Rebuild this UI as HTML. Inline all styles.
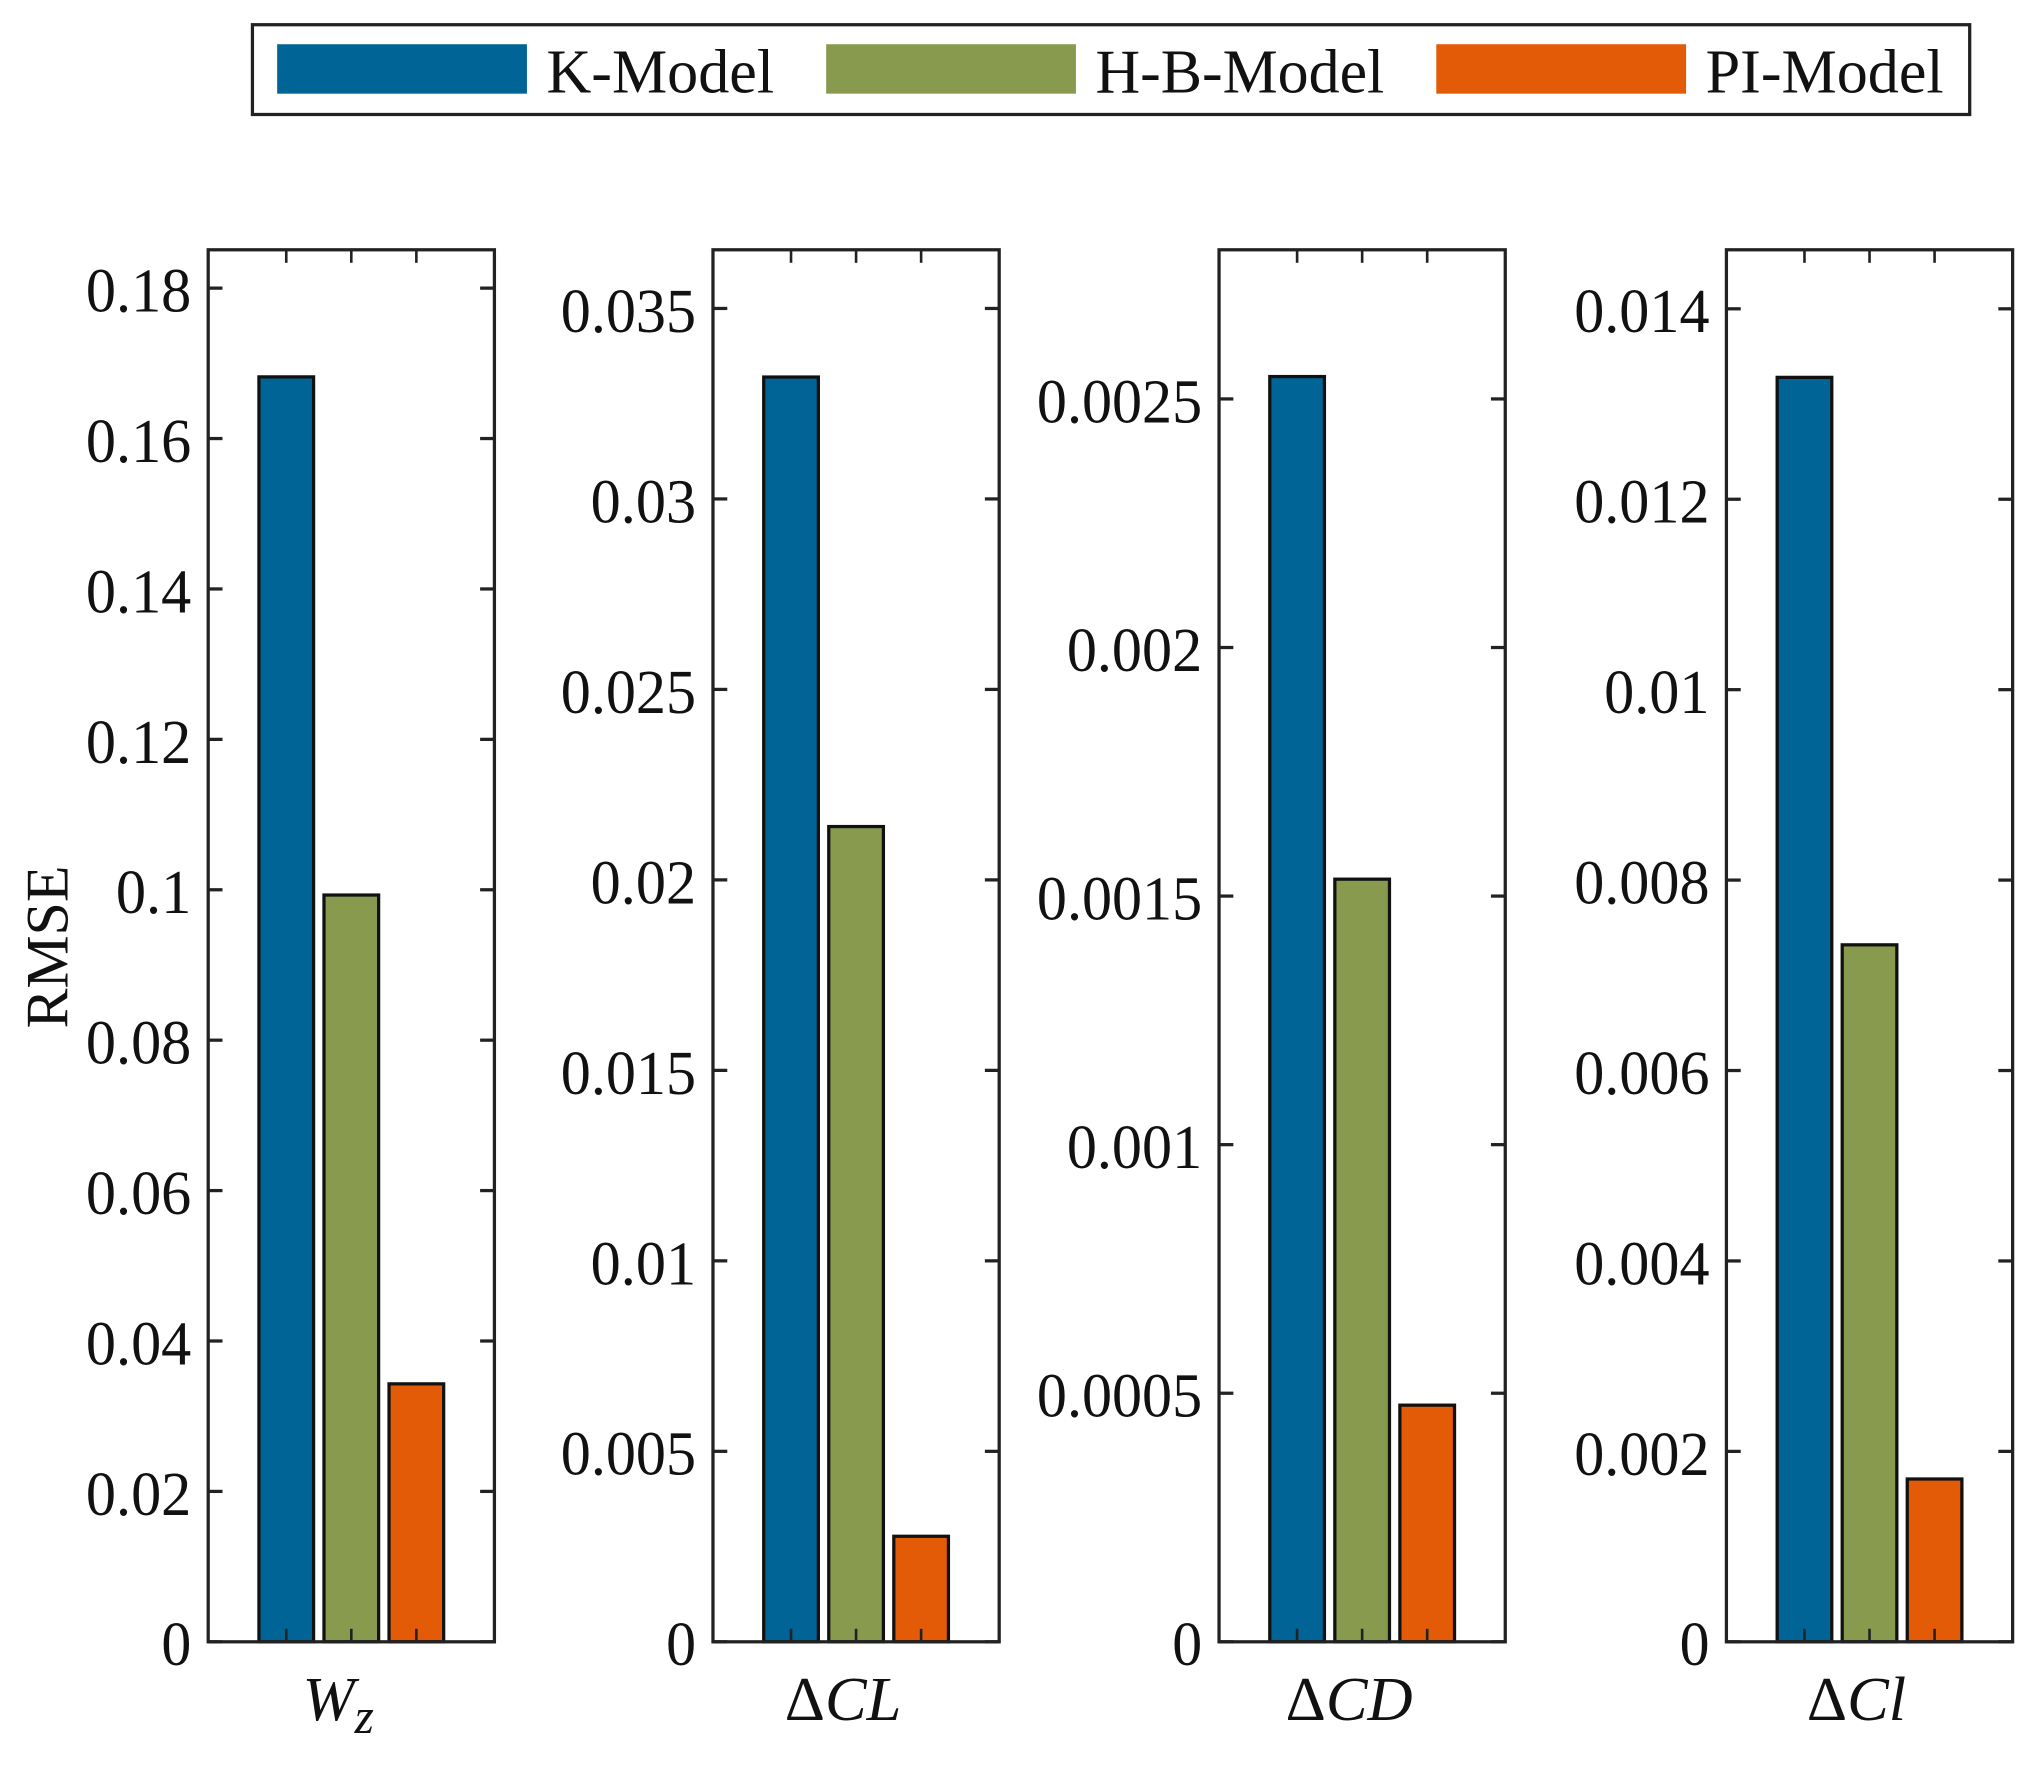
<!DOCTYPE html>
<html><head><meta charset="utf-8"><style>
html,body{margin:0;padding:0;background:#fff}
svg{display:block}
text{font-family:"Liberation Serif",serif;fill:#111}
</style></head><body>
<svg id="fig" xmlns="http://www.w3.org/2000/svg" width="2040" height="1768" viewBox="0 0 1568 1359">
<g>
<rect x="194" y="19" width="1320" height="69" fill="#fff" stroke="#222" stroke-width="2.5"/>
<g><rect x="213" y="34" width="192" height="38" fill="#006496"/><text x="420" y="71" font-size="48" textLength="175" lengthAdjust="spacingAndGlyphs">K-Model</text></g>
<g><rect x="635" y="34" width="192" height="38" fill="#889a4e"/><text x="842" y="71" font-size="48" textLength="222" lengthAdjust="spacingAndGlyphs">H-B-Model</text></g>
<g><rect x="1104" y="34" width="192" height="38" fill="#e35b07"/><text x="1311" y="71" font-size="48" textLength="183" lengthAdjust="spacingAndGlyphs">PI-Model</text></g>
</g>
<text transform="translate(52,728) rotate(-90)" text-anchor="middle" font-size="46">RMSE</text>
<g id="panels"></g>
</svg>
<script>
const categories = ["Wz", "ΔCL", "ΔCD", "ΔCl"];
const kModel = [0.1682, 0.0332, 0.002545, 0.01328];
const hbModel = [0.0993, 0.0214, 0.001534, 0.00732];
const piModel = [0.0343, 0.00277, 0.000476, 0.00171];
const yMax = [0.1851, 0.03654, 0.0028, 0.01462];
const tickLabels = [
  ["0","0.02","0.04","0.06","0.08","0.1","0.12","0.14","0.16","0.18"],
  ["0","0.005","0.01","0.015","0.02","0.025","0.03","0.035"],
  ["0","0.0005","0.001","0.0015","0.002","0.0025"],
  ["0","0.002","0.004","0.006","0.008","0.01","0.012","0.014"]
];
const seriesNames = ["k-model","h-b-model","pi-model"];
const colors = ["#006496","#889a4e","#e35b07"];
const NS = "http://www.w3.org/2000/svg";
const root = document.getElementById("panels");
const axLeft = [160, 548, 937, 1327];
const axW = 220, axTop = 192, axBot = 1262;
function mk(tag, attrs, parent){const e=document.createElementNS(NS,tag);for(const k in attrs)e.setAttribute(k,attrs[k]);parent.appendChild(e);return e;}
const series=[kModel,hbModel,piModel];
categories.forEach((cat,i)=>{
  const g=mk("g",{},root);
  
  
  const x0=axLeft[i], x1=x0+axW;
  const y=v=>axBot-(v/yMax[i])*(axBot-axTop);
  const cx=x0+axW/2, bw=42, step=50;
  series.forEach((s,j)=>{
    const bx=cx+(j-1)*step;
    const r=mk("rect",{x:bx-bw/2,y:y(s[i]),width:bw,height:axBot-y(s[i]),fill:colors[j],stroke:"#111","stroke-width":2.5},g);
    
    
    mk("line",{x1:bx,x2:bx,y1:axBot,y2:axBot-10,stroke:"#222","stroke-width":2},g);
    mk("line",{x1:bx,x2:bx,y1:axTop,y2:axTop+10,stroke:"#222","stroke-width":2},g);
  });
  const box=mk("rect",{x:x0,y:axTop,width:axW,height:axBot-axTop,fill:"none",stroke:"#222","stroke-width":2.5},g);
  
  
  tickLabels[i].forEach(lab=>{
    const v=parseFloat(lab), ty=y(v);
    mk("line",{x1:x0,x2:x0+11,y1:ty,y2:ty,stroke:"#222","stroke-width":2.5},g);
    mk("line",{x1:x1,x2:x1-11,y1:ty,y2:ty,stroke:"#222","stroke-width":2.5},g);
    const nd=(lab.match(/[0-9]/g)||[]).length, nt=(lab.match(/\./g)||[]).length;
    const t=mk("text",{x:x0-13,y:ty+18,"text-anchor":"end","font-size":48,textLength:nd*23+nt*12,lengthAdjust:"spacingAndGlyphs"},g);
    t.textContent=lab;
    
    
  });
  const xl=mk("text",{x:cx-10,y:1322,"text-anchor":"middle","font-size":48,"font-style":"italic"},g);
  
  
  if(cat==="Wz"){
    const a=mk("tspan",{},xl);a.textContent="W";
    const b=mk("tspan",{dy:10,"font-size":38},xl);b.textContent="z";
  } else {
    const a=mk("tspan",{"font-style":"normal"},xl);a.textContent="Δ";
    const b=mk("tspan",{},xl);b.textContent=cat.slice(1);
  }
});
</script>
</body></html>
